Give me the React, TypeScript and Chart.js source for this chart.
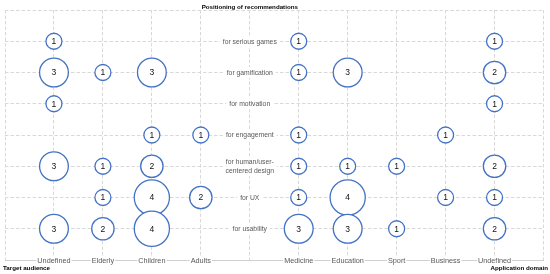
import React, { useEffect, useRef } from "react";
import { Chart, registerables } from "chart.js";

Chart.register(...registerables);

// Rows, listed from top to bottom
const rowLabels: string[][] = [
  ["for serious games"],
  ["for gamification"],
  ["for motivation"],
  ["for engagement"],
  ["for human/user-", "centered design"],
  ["for UX"],
  ["for usability"],
];

// Target audience (left side)
const audienceCategories = ["Undefined", "Elderly", "Children", "Adults"];
const audienceUndefined = [1, 3, 1, 0, 3, 0, 3];
const audienceElderly = [0, 1, 0, 0, 1, 1, 2];
const audienceChildren = [0, 3, 0, 1, 2, 4, 4];
const audienceAdults = [0, 0, 0, 1, 0, 2, 0];

// Application domain (right side)
const domainCategories = ["Medicine", "Education", "Sport", "Business", "Undefined"];
const domainMedicine = [1, 1, 0, 1, 1, 1, 3];
const domainEducation = [0, 3, 0, 0, 1, 4, 3];
const domainSport = [0, 0, 0, 0, 1, 0, 1];
const domainBusiness = [0, 0, 0, 1, 0, 1, 0];
const domainUndefined = [1, 2, 1, 0, 2, 1, 2];

const title = "Positioning of recommendations";
const leftAxisTitle = "Target audience";
const rightAxisTitle = "Application domain";

const columns: number[][] = [
  audienceUndefined,
  audienceElderly,
  audienceChildren,
  audienceAdults,
  domainMedicine,
  domainEducation,
  domainSport,
  domainBusiness,
  domainUndefined,
];
const columnLabels = [...audienceCategories, ...domainCategories];
// column positions on the x scale (centre column 5 holds the row labels)
const columnX = [1, 2, 3, 4, 6, 7, 8, 9, 10];
const LABEL_X = 5;
const nRows = rowLabels.length;
const rowY = (i: number) => nRows - i;

const FONT = "'Liberation Sans', Arial, sans-serif";

export default function App() {
  const ref = useRef<HTMLCanvasElement | null>(null);

  useEffect(() => {
    document.body.style.margin = "0";
    const canvas = ref.current!;
    const points: { x: number; y: number; v: number }[] = [];
    columns.forEach((col, c) => {
      col.forEach((v, r) => {
        if (v > 0) points.push({ x: columnX[c], y: rowY(r), v });
      });
    });

    const textPlugin = {
      id: "texts",
      afterDatasetsDraw(chart: any) {
        const ctx: CanvasRenderingContext2D = chart.ctx;
        const xs = chart.scales.x;
        const ys = chart.scales.y;
        ctx.save();
        // numbers inside bubbles
        const meta = chart.getDatasetMeta(0);
        ctx.font = `8.5px ${FONT}`;
        ctx.fillStyle = "#111";
        ctx.textAlign = "center";
        ctx.textBaseline = "middle";
        meta.data.forEach((el: any, i: number) => {
          const raw = chart.data.datasets[0].data[i];
          ctx.fillText(String(raw.v), el.x, el.y + 0.5);
        });
        // row labels in the centre column
        ctx.font = `6.8px ${FONT}`;
        const cx = xs.getPixelForValue(LABEL_X);
        rowLabels.forEach((lines, r) => {
          const cy = ys.getPixelForValue(rowY(r));
          const lh = 9;
          const w = Math.max(...lines.map((l) => ctx.measureText(l).width));
          const h = lh * lines.length;
          ctx.fillStyle = "#fff";
          ctx.fillRect(cx - w / 2 - 3, cy - h / 2 - 1, w + 6, h + 2);
          ctx.fillStyle = "#595959";
          lines.forEach((l, k) => {
            ctx.fillText(l, cx, cy - h / 2 + lh * (k + 0.5) + 0.5);
          });
        });
        // category labels on the bottom axis
        ctx.font = `7.3px ${FONT}`;
        const by = ys.getPixelForValue(0);
        columnLabels.forEach((lab, c) => {
          const x = xs.getPixelForValue(columnX[c]);
          const w = ctx.measureText(lab).width;
          ctx.fillStyle = "#fff";
          ctx.fillRect(x - w / 2 - 1, by - 4, w + 2, 8);
          ctx.fillStyle = "#595959";
          ctx.fillText(lab, x, by + 0.5);
        });
        // titles
        ctx.font = `bold 6.2px ${FONT}`;
        ctx.fillStyle = "#000";
        ctx.fillText(title, xs.getPixelForValue(LABEL_X), 7);
        ctx.textAlign = "left";
        ctx.fillText(leftAxisTitle, 3, 268.5);
        ctx.textAlign = "right";
        ctx.fillText(rightAxisTitle, 548, 268.5);
        ctx.restore();
      },
    };

    const chart = new Chart(canvas, {
      type: "bubble",
      data: {
        datasets: [
          {
            data: points as any,
            backgroundColor: "#ffffff",
            borderColor: "#4472C4",
            borderWidth: 1.3,
            radius: (c: any) => 4.8 + 3.2 * (c.raw ? c.raw.v : 1),
            hoverRadius: 0,
          } as any,
        ],
      },
      options: {
        responsive: false,
        animation: false,
        events: [],
        layout: { autoPadding: false, padding: { left: 5, right: 6.5, top: 10, bottom: 14 } },
        plugins: {
          legend: { display: false },
          tooltip: { enabled: false },
          title: { display: false },
        },
        scales: {
          x: {
            type: "linear",
            min: 0,
            max: 11,
            ticks: { display: false, stepSize: 1 },
            grid: { color: "#d9d9d9", lineWidth: 1, drawTicks: false },
            border: { display: true, color: "#d0d0d0", width: 1, dash: [3.5, 2] },
            afterFit: (s: any) => {
              s.height = 0;
            },
          },
          y: {
            type: "linear",
            min: 0,
            max: 8,
            ticks: { display: false, stepSize: 1 },
            grid: { color: "#d9d9d9", lineWidth: 1, drawTicks: false },
            border: { display: false, dash: [3.5, 2] },
            afterFit: (s: any) => {
              s.width = 0;
            },
          },
        },
      },
      plugins: [textPlugin],
    });
    return () => chart.destroy();
  }, []);

  return (
    <div style={{ width: 550, height: 274 }}>
      <canvas ref={ref} width={550} height={274} style={{ display: "block" }} />
    </div>
  );
}
